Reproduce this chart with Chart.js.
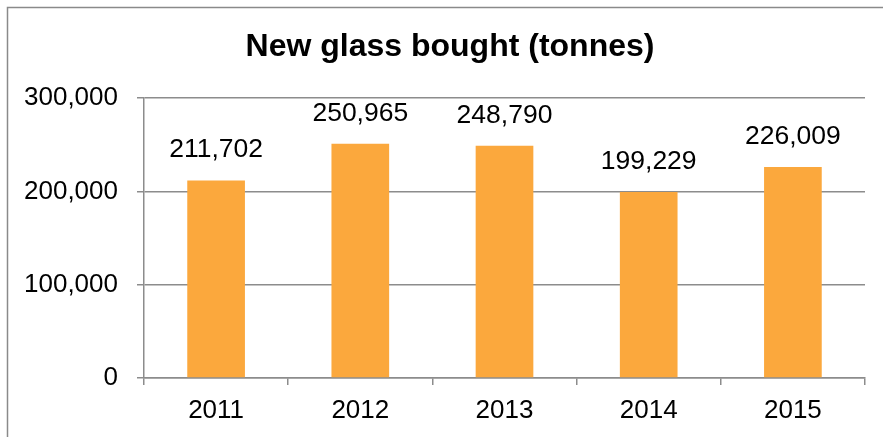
<!DOCTYPE html>
<html>
<head>
<meta charset="utf-8">
<script src="https://cdn.jsdelivr.net/npm/chart.js@4"></script>
<style>
html,body{margin:0;padding:0;background:#fff;}
#wrap{position:relative;width:883px;height:437px;}
</style>
</head>
<body>
<div id="wrap"><canvas id="c" width="883" height="437"></canvas></div>
<script>
const title = 'New glass bought (tonnes)';
const categories = ['2011', '2012', '2013', '2014', '2015'];
const values = [211702, 250965, 248790, 199229, 226009];
const yTicks = [0, 100000, 200000, 300000];

const FONT = "'Liberation Sans', Arial, sans-serif";
const fmt = v => v.toLocaleString('en-US');

const frame = {
  id: 'frame',
  afterDraw(chart) {
    const ctx = chart.ctx;
    ctx.save();
    ctx.strokeStyle = '#8a8a8a';
    ctx.lineWidth = 1.5;
    ctx.beginPath();
    ctx.moveTo(7.5, 437);
    ctx.lineTo(7.5, 7.5);
    ctx.lineTo(883, 7.5);
    ctx.stroke();
    // chart title
    ctx.font = 'bold 32px ' + FONT;
    ctx.fillStyle = '#000';
    ctx.textAlign = 'center';
    ctx.textBaseline = 'alphabetic';
    ctx.fillText(title, 450, 56);
    ctx.restore();
  }
};

const valueLabels = {
  id: 'valueLabels',
  afterDatasetsDraw(chart) {
    const ctx = chart.ctx;
    const meta = chart.getDatasetMeta(0);
    ctx.save();
    ctx.font = '26.5px ' + FONT;
    ctx.fillStyle = '#000';
    ctx.textAlign = 'center';
    ctx.textBaseline = 'alphabetic';
    meta.data.forEach((bar, i) => {
      ctx.fillText(fmt(values[i]), bar.x, bar.y - 23);
    });
    ctx.restore();
  }
};

new Chart(document.getElementById('c'), {
  type: 'bar',
  data: {
    labels: categories,
    datasets: [{
      data: values,
      backgroundColor: '#FBA83D',
      borderWidth: 0,
      barPercentage: 0.4,
      categoryPercentage: 1.0
    }]
  },
  options: {
    responsive: false,
    animation: false,
    devicePixelRatio: 1,
    layout: { padding: { left: 0, right: 18, top: 98, bottom: 0 } },
    plugins: {
      legend: { display: false },
      tooltip: { enabled: false },
      title: { display: false }
    },
    scales: {
      x: {
        offset: true,
        grid: {
          offset: true,
          drawOnChartArea: false,
          drawTicks: true,
          tickLength: 7,
          color: '#8c8c8c',
          lineWidth: 1.5
        },
        border: { display: true, color: '#8c8c8c', width: 1.5 },
        ticks: {
          color: '#000',
          font: { family: FONT, size: 26 },
          padding: 10
        },
        afterFit(scale) { scale.height = 59; }
      },
      y: {
        min: 0,
        max: 300000,
        afterBuildTicks(scale) { scale.ticks = yTicks.map(v => ({ value: v })); },
        grid: {
          color: '#8c8c8c',
          lineWidth: 1.5,
          drawTicks: true,
          tickLength: 7
        },
        border: { display: true, color: '#8c8c8c', width: 1.5 },
        ticks: {
          color: '#000',
          font: { family: FONT, size: 26 },
          padding: 19,
          callback: v => fmt(v)
        },
        afterFit(scale) { scale.width = 144; }
      }
    }
  },
  plugins: [frame, valueLabels]
});
</script>
</body>
</html>
